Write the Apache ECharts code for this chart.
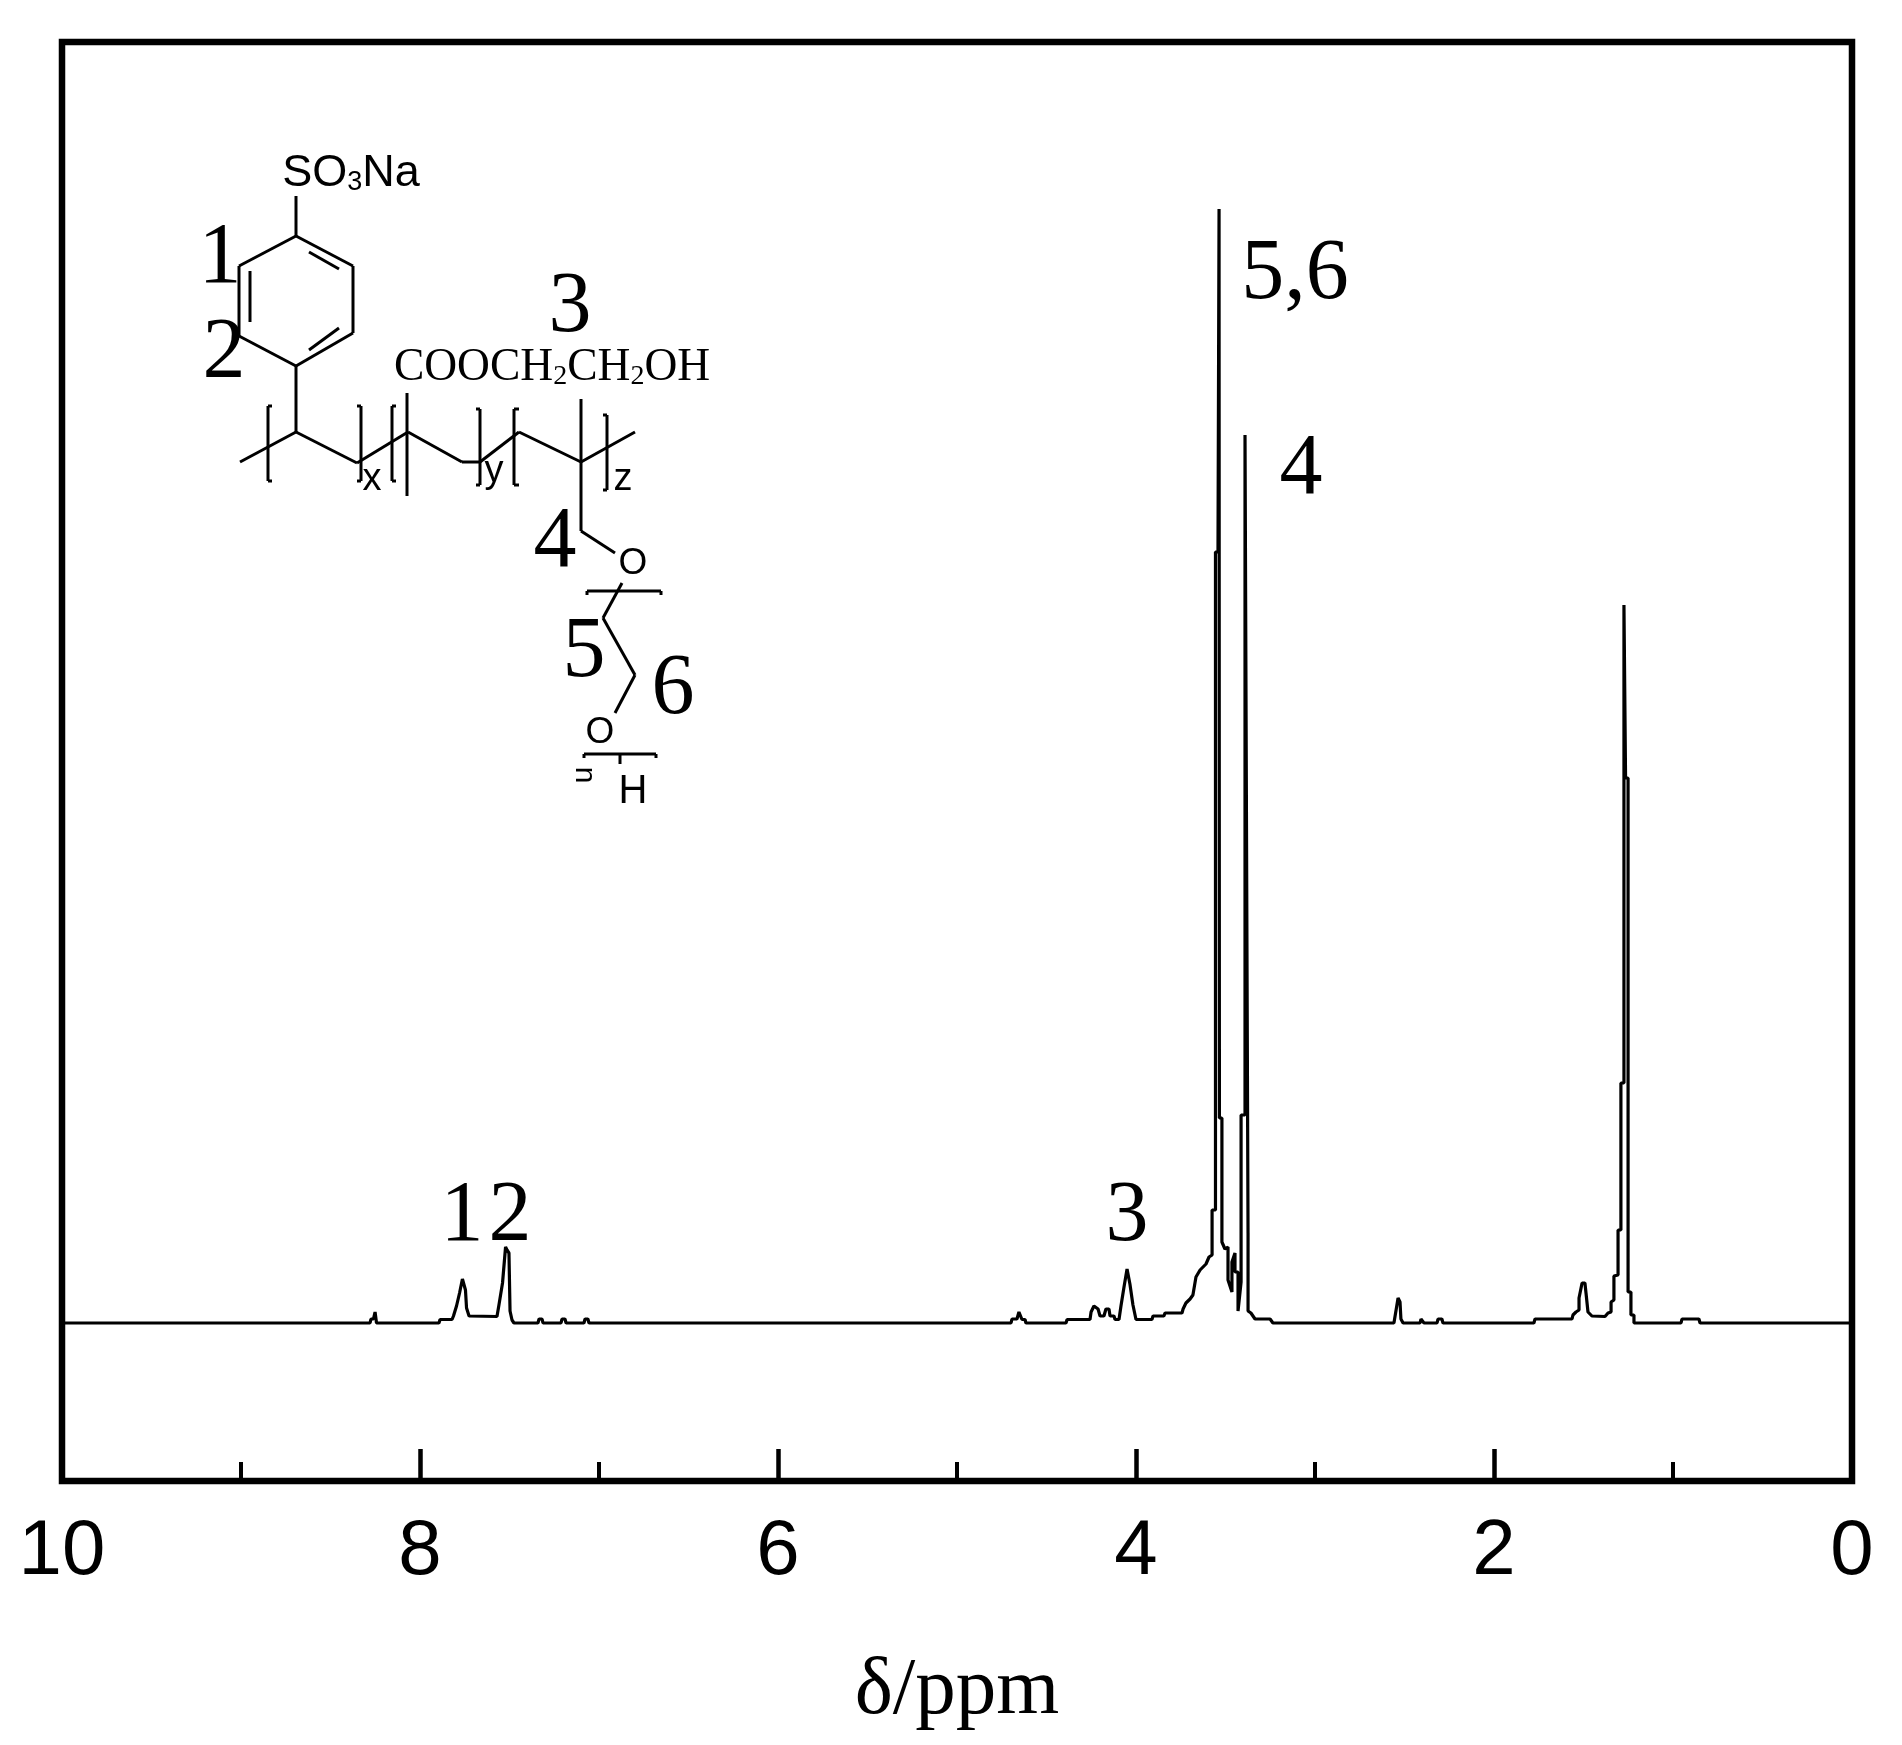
<!DOCTYPE html>
<html>
<head>
<meta charset="utf-8">
<style>
html, body { margin: 0; padding: 0; background: #fff; }
#main { width: 1902px; height: 1745px; }
</style>
<script src="https://cdn.jsdelivr.net/npm/echarts@6/dist/echarts.min.js"></script>
</head>
<body>
<div id="main"></div>
<script>
// chemical shift (ppm) and signal height (a.u.) from left to right
var shift = [10, 8.279, 8.274, 8.260, 8.251, 8.243, 7.894, 7.888, 7.821, 7.813, 7.796, 7.779, 7.763, 7.746, 7.740, 7.726,
    7.570, 7.559, 7.539, 7.522, 7.514, 7.503, 7.497, 7.486, 7.475, 7.341, 7.335, 7.318, 7.313, 7.212, 7.207, 7.190, 7.184,
    7.084, 7.078, 7.062, 7.056, 4.698, 4.693, 4.665, 4.654, 4.637, 4.620, 4.615, 4.391, 4.385, 4.257, 4.251, 4.235, 4.212,
    4.201, 4.179, 4.168, 4.151, 4.145, 4.123, 4.117, 4.095, 4.084, 4.067, 4.050, 4.034, 4.017, 4.000, 3.911, 3.905, 3.844,
    3.838, 3.743, 3.737, 3.721, 3.698, 3.682, 3.665, 3.642, 3.609, 3.592, 3.575, 3.575, 3.556, 3.556, 3.542, 3.536, 3.534,
    3.520, 3.520, 3.503, 3.486, 3.486, 3.464, 3.464, 3.447, 3.447, 3.430, 3.430, 3.413, 3.413, 3.391, 3.391, 3.385, 3.374,
    3.374, 3.358, 3.335, 3.251, 3.235, 2.559, 2.547, 2.536, 2.525, 2.520, 2.508, 2.413, 2.408, 2.397, 2.391, 2.318, 2.313,
    2.291, 2.285, 1.777, 1.771, 1.564, 1.559, 1.542, 1.525, 1.525, 1.508, 1.492, 1.486, 1.475, 1.475, 1.453, 1.380, 1.363,
    1.346, 1.346, 1.330, 1.330, 1.307, 1.307, 1.291, 1.291, 1.274, 1.274, 1.265, 1.265, 1.251, 1.251, 1.235, 1.235, 1.218,
    1.218, 0.955, 0.950, 0.855, 0.849, 0];
var signal = [0, 0, 4, 4, 11, 0, 0, 3.5, 3.5, 7, 17, 30, 44, 33, 15, 7,
    6.5, 18, 40, 76, 73, 70, 12, 3, 0, 0, 4, 4, 0, 0, 4, 4, 0,
    0, 4, 4, 0, 0, 4, 4, 11, 3.5, 3.5, 0, 0, 3.5, 3.5, 11, 17, 14,
    7, 7, 14, 14, 7, 7, 3.5, 3.5, 17, 36, 54, 39, 18, 3.5, 3.5, 7, 7,
    10, 10, 14, 20, 24, 28, 46, 53, 59, 66, 68, 113, 113, 771, 771, 1114, 205,
    205, 81, 74, 76, 43, 31, 61, 70, 51, 51, 12, 41, 208, 208, 888, 888, 90,
    12, 10, 4, 4, 0, 0, 13, 25, 21, 4, 0, 0, 4, 4, 0, 0, 4,
    4, 0, 0, 4, 4, 8, 11, 13, 25, 40, 40, 30, 30, 11, 7, 6.5, 10,
    11, 21, 23, 47, 48, 93, 93, 240, 240, 718, 718, 545, 545, 31, 31, 8, 8,
    0, 0, 4, 4, 0, 0];

var peakLabels = ['5,6', '4', '3', '1', '2'];
var xName = 'δ/ppm';

var points = shift.map(function (s, i) { return [s, signal[i]]; });

// structure inset, drawn in page pixels: x1, y1, x2, y2
var bonds = [
    [296, 196, 296, 236], [296, 236, 353, 266], [353, 266, 353, 333], [353, 333, 296, 366],
    [296, 366, 239, 336], [239, 336, 239, 266], [239, 266, 296, 236],
    [309, 252, 339, 269], [250, 271, 250, 322], [309, 350, 339, 328],
    [296, 366, 296, 432],
    [240, 462, 296, 432], [296, 432, 357, 463], [357, 463, 408, 432], [408, 432, 462, 462],
    [462, 462, 480, 462], [480, 462, 519, 432], [519, 432, 581, 462], [581, 462, 635, 432],
    [407, 393, 407, 496], [581, 399, 581, 531], [581, 531, 615, 553],
    [622, 583, 603, 618], [603, 618, 635, 675], [635, 675, 615, 713],
    // brackets
    [268, 406, 268, 481], [268, 406, 272, 406], [268, 481, 272, 481],
    [361, 406, 361, 481], [357, 406, 361, 406], [357, 481, 361, 481],
    [392, 406, 392, 481], [392, 406, 396, 406], [392, 481, 396, 481],
    [480, 409, 480, 485], [476, 409, 480, 409], [476, 485, 480, 485],
    [514, 409, 514, 485], [514, 409, 519, 409], [514, 485, 519, 485],
    [607, 415, 607, 490], [603, 415, 607, 415], [603, 490, 607, 490],
    [587, 591, 661, 591], [587, 591, 587, 595], [661, 591, 661, 595],
    [584, 754, 656, 754], [584, 754, 584, 758], [656, 754, 656, 758], [620, 754, 620, 764]
];

function txt(x, y, text, font, size) {
    return {
        type: 'text', silent: true,
        style: {
            x: x, y: y, text: text, fill: '#000',
            font: size + 'px "' + font + '"',
            align: 'center', verticalAlign: 'middle'
        }
    };
}

var SERIF = 'Liberation Serif', SANS = 'Liberation Sans';
var graphic = bonds.map(function (b) {
    return {
        type: 'line', silent: true,
        shape: { x1: b[0], y1: b[1], x2: b[2], y2: b[3] },
        style: { stroke: '#000', lineWidth: 3 }
    };
});

// peak labels
graphic.push(txt(1295, 275, peakLabels[0], SERIF, 86));
graphic.push(txt(1301, 470, peakLabels[1], SERIF, 86));
graphic.push(txt(1127, 1217, peakLabels[2], SERIF, 86));
graphic.push(txt(462, 1217, peakLabels[3], SERIF, 86));
graphic.push(txt(510, 1217, peakLabels[4], SERIF, 86));

// structure labels
graphic.push(txt(220, 259, '1', SERIF, 86));
graphic.push(txt(224, 354, '2', SERIF, 86));
graphic.push(txt(570, 308, '3', SERIF, 86));
graphic.push(txt(555, 543, '4', SERIF, 86));
graphic.push(txt(584, 653, '5', SERIF, 86));
graphic.push(txt(673, 690, '6', SERIF, 86));
graphic.push(txt(633, 564, 'O', SANS, 37));
graphic.push(txt(600, 733, 'O', SANS, 37));
graphic.push(txt(633, 792, 'H', SANS, 40));
graphic.push(txt(372, 480, 'x', SANS, 38));
graphic.push(txt(494, 472, 'y', SANS, 38));
graphic.push(txt(623, 480, 'z', SANS, 38));
var nLabel = txt(0, 0, 'n', SANS, 30);
nLabel.x = 584; nLabel.y = 775; nLabel.rotation = -Math.PI / 2;
graphic.push(nLabel);

graphic.push({
    type: 'text', silent: true,
    style: {
        x: 351, y: 172, align: 'center', verticalAlign: 'middle', fill: '#000',
        text: '{a|SO}{b|3}{a|Na}',
        rich: {
            a: { font: '45px "Liberation Sans"', fill: '#000', lineHeight: 48, verticalAlign: 'bottom' },
            b: { font: '27px "Liberation Sans"', fill: '#000', lineHeight: 30, verticalAlign: 'bottom' }
        }
    }
});
graphic.push({
    type: 'text', silent: true,
    style: {
        x: 552, y: 367, align: 'center', verticalAlign: 'middle', fill: '#000',
        text: '{a|COOCH}{b|2}{a|CH}{b|2}{a|OH}',
        rich: {
            a: { font: '45.5px "Liberation Serif"', fill: '#000', lineHeight: 48, verticalAlign: 'bottom' },
            b: { font: '28px "Liberation Serif"', fill: '#000', lineHeight: 28, verticalAlign: 'bottom' }
        }
    }
});

var chart = echarts.init(document.getElementById('main'), null, { renderer: 'canvas' });
chart.setOption({
    animation: false,
    backgroundColor: '#fff',
    grid: { show: true, left: 62, right: 50, top: 42, bottom: 264, borderColor: '#000', borderWidth: 6.5, backgroundColor: 'transparent' },
    xAxis: {
        type: 'value', inverse: true, min: 0, max: 10, interval: 2,
        splitLine: { show: false },
        axisLine: { show: false, onZero: false },
        axisTick: { show: true, inside: true, length: 32, lineStyle: { color: '#000', width: 4.5 } },
        minorTick: { show: true, splitNumber: 2, length: 19, lineStyle: { color: '#000', width: 4 } },
        minorSplitLine: { show: false },
        axisLabel: { fontFamily: SANS, fontSize: 78, color: '#000', margin: 32 },
        name: xName, nameLocation: 'middle', nameGap: 170,
        nameTextStyle: { fontFamily: SERIF, fontSize: 81, color: '#000' }
    },
    yAxis: { type: 'value', min: -158, max: 1281, show: false, splitLine: { show: false } },
    series: [{
        type: 'line', data: points, showSymbol: false, symbol: 'none', smooth: false,
        sampling: false, clip: true,
        lineStyle: { color: '#000', width: 3.2, join: 'bevel' }
    }],
    graphic: graphic
});
</script>
</body>
</html>
